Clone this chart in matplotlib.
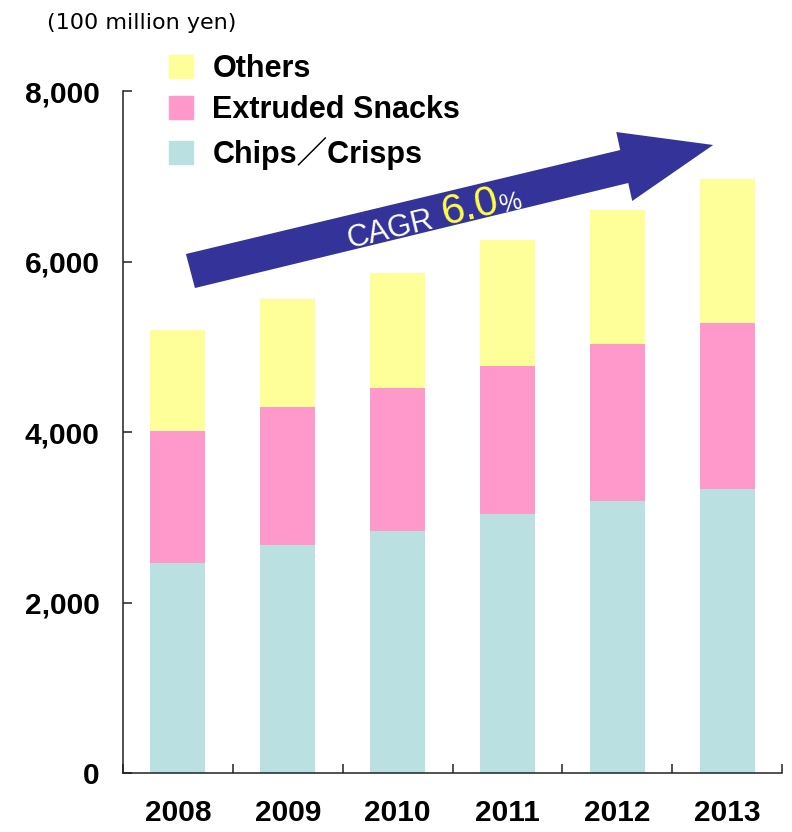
import numpy as np
import matplotlib.pyplot as plt
from matplotlib.patches import Polygon, Patch
from matplotlib.ticker import FixedLocator, FuncFormatter

# snack market by segment (100 million yen)
years = ['2008', '2009', '2010', '2011', '2012', '2013']
chips = [2460, 2670, 2840, 3040, 3190, 3330]
extruded = [1550, 1620, 1680, 1740, 1840, 1950]
others = [1190, 1270, 1350, 1470, 1580, 1690]

c_chips = '#BAE0E2'
c_extr = '#FF99CC'
c_oth = '#FFFF99'
c_arrow = '#333399'

fnt = ['Liberation Sans', 'Noto Sans CJK JP']

fig = plt.figure(figsize=(7.92, 8.32), dpi=100)
ax = fig.add_axes([0.1553, 0.0709, 0.8321, 0.8197])

x = np.arange(len(years))
chips = np.array(chips)
extruded = np.array(extruded)
others = np.array(others)
ax.bar(x, chips, width=0.5, color=c_chips, linewidth=0)
ax.bar(x, extruded, width=0.5, bottom=chips, color=c_extr, linewidth=0)
ax.bar(x, others, width=0.5, bottom=chips + extruded, color=c_oth, linewidth=0)

ax.set_xlim(-0.5, len(years) - 0.5)
ax.set_ylim(0, 8000)
for s in ['top', 'right']:
    ax.spines[s].set_visible(False)
for s in ['left', 'bottom']:
    ax.spines[s].set_linewidth(1.1)
    ax.spines[s].set_color('#222222')

ax.set_yticks(np.arange(0, 8001, 2000))
ax.yaxis.set_major_formatter(FuncFormatter(lambda v, p: f'{int(v):,}'))
ax.tick_params(axis='y', direction='in', length=6.5, width=1.1, pad=17,
               color='#222222')
ax.set_xticks(x)
ax.set_xticklabels(years)
ax.tick_params(axis='x', length=0, pad=19)
ax.xaxis.set_minor_locator(FixedLocator(np.arange(-0.5, len(years), 1)))
ax.tick_params(axis='x', which='minor', direction='in', length=6.5,
               width=1.1, color='#222222')
for lab in ax.get_xticklabels() + ax.get_yticklabels():
    lab.set_family(fnt)
    lab.set_fontsize(21.5)
    lab.set_fontweight('bold')

fig.text(0.059, 0.960, '(100 million yen)', fontsize=16,
         family='DejaVu Sans', va='bottom')

handles = [Patch(color=c_oth), Patch(color=c_extr), Patch(color=c_chips)]
labels = ['Others', 'Extruded Snacks', 'Chips／Crisps']
leg = fig.legend(handles, labels, loc='upper left',
                 bbox_to_anchor=(0.214, 0.935), frameon=False,
                 prop={'family': fnt, 'size': 22, 'weight': 'bold'},
                 handlelength=0.78, handleheight=0.78, handletextpad=0.62,
                 labelspacing=0.37, borderpad=0, borderaxespad=0)

# growth arrow
arrow_x = [0.073, 4.027, 3.991, 4.873, 4.136, 4.100, 0.155]
arrow_y = [6088, 7308, 7519, 7367, 6710, 6921, 5689]
ax.add_patch(Polygon(np.column_stack([arrow_x, arrow_y]), closed=True,
                     facecolor=c_arrow, edgecolor='none', zorder=3))

rot = 13.4
ax.text(1.56, 6162, 'CAGR', color='white', fontsize=22, family=fnt,
        rotation=rot, rotation_mode='anchor', zorder=4)
ax.text(2.43, 6428, '6.0', color='#FFFF44', fontsize=30, family=fnt,
        rotation=rot, rotation_mode='anchor', zorder=4)
ax.text(2.94, 6572, '%', color='white', fontsize=18, family=fnt,
        rotation=rot, rotation_mode='anchor', zorder=4)

fig.savefig('out.png', dpi=100)
